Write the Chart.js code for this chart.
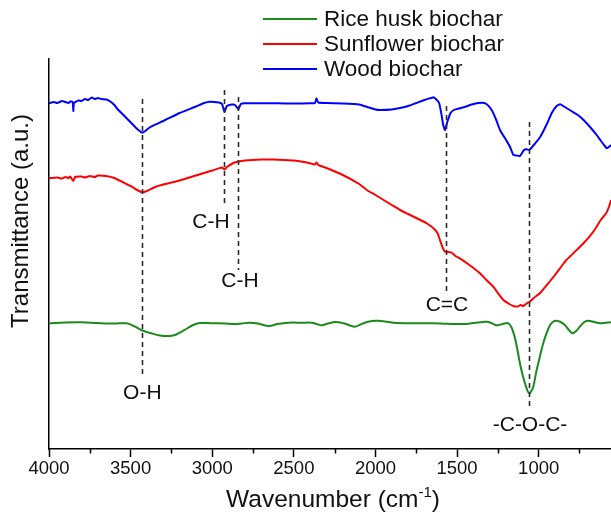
<!DOCTYPE html>
<html>
<head>
<meta charset="utf-8">
<script src="https://cdn.jsdelivr.net/npm/chart.js@4.4.1/dist/chart.umd.min.js"></script>
<style>
  html, body { margin: 0; padding: 0; background: #ffffff; }
  #wrap { width: 611px; height: 514px; }
</style>
</head>
<body>
<div id="wrap"><canvas id="c" width="611" height="514"></canvas></div>
<script>
// ---------------- DATA ----------------
const seriesNames = ['Rice husk biochar', 'Sunflower biochar', 'Wood biochar'];

const xMajorTicks = [4000, 3500, 3000, 2500, 2000, 1500, 1000];
const xMinorTicks = [3750, 3250, 2750, 2250, 1750, 1250, 750];

// Band assignments (dashed markers)
const bandWn     = [3428, 2925, 2840, 1565, 1058];
const bandTop    = [350, 359, 352, 343, 327];
const bandBottom = [72, 242, 179, 156, 43];
const bandLabels = ['O-H', 'C-H', 'C-H', 'C=C', '-C-O-C-'];
const labelWn    = [3428, 3008, 2830, 1562, 1053];
const labelT     = [56, 227, 168, 144, 24];

// Rice husk biochar
const riceWn = [4000,3900,3800,3700,3600,3524,3480,3428,3380,3320,3259,3220,3180,3150,3110,3075,3000,2920,2868,2820,2772,2720,2653,2600,2533,2450,2390,2360,2330,2290,2247,2190,2127,2070,2020,1984,1940,1889,1800,1700,1646,1560,1459,1400,1340,1316,1290,1256,1220,1186,1165,1145,1130,1115,1100,1084,1070,1058,1045,1033,1015,993,970,952,930,910,891,865,840,815,793,770,748,720,697,660,623,590,557];
const riceT  = [125.7,126.5,126.7,126,125.5,125.7,123,118.5,116,113.5,113,114.5,118,121,124.5,126,125.7,125.5,125,125.5,126.3,125.5,123,125,126.3,126.3,126.3,125,123.7,125.5,127,125.5,122.3,126,128,128.3,127.5,126.3,125.7,125.7,125.7,125.2,125,126,127,127.3,126,123.7,125,125.7,121,110.7,99,85.7,75,65.7,59,55.7,58,62.3,77,92.3,107,115.7,124,127.5,128.3,127,124,119,115.7,118,122.3,127,128.3,127,125.7,126.2,126.7];

// Sunflower biochar
const sunWn = [4000,3950,3920,3900,3880,3870,3851,3840,3800,3780,3750,3720,3700,3650,3600,3550,3500,3460,3428,3400,3350,3300,3200,3100,3000,2940,2925,2910,2870,2840,2800,2700,2646,2600,2500,2420,2370,2362,2350,2300,2200,2100,2053,2000,1950,1900,1849,1800,1750,1700,1686,1645,1620,1605,1590,1574,1555,1533,1510,1482,1450,1400,1360,1320,1278,1250,1216,1180,1155,1130,1110,1094,1070,1054,1030,993,950,900,850,830,780,730,689,650,620,587,570,557];
const sunT  = [270.7,271.5,270.5,272,271,272.5,268,272,272.5,271.5,273,272,273.5,273,271,267,263,259,256.7,258,262,264.5,268.5,273.5,278.5,281.5,279.5,282,286,287.5,288.5,289.5,289.5,289.3,288.5,286.5,284.5,286.5,284,281,274,265,259,254,249,244,239,235,231,227,225.7,220.7,216,209,202,197.3,197,196.3,193,190.7,187,181,175.7,169,162.3,156,149,145,143,142.5,144,143,146,147.3,151,155.7,164,174,185,189,197,205,212.3,221,229,235.7,242,249];

// Wood biochar
const woodWn = [4000,3970,3950,3920,3900,3880,3870,3855,3851,3847,3820,3800,3780,3760,3738,3720,3700,3680,3647,3620,3600,3575,3550,3520,3490,3460,3440,3428,3410,3380,3300,3200,3100,3050,3014,2960,2940,2925,2910,2880,2860,2840,2825,2800,2700,2600,2500,2400,2370,2362,2350,2300,2200,2100,2050,2000,1972,1900,1850,1800,1750,1700,1660,1646,1630,1610,1595,1585,1574,1560,1540,1520,1500,1450,1400,1350,1320,1288,1260,1237,1200,1176,1155,1135,1115,1090,1074,1058,1030,990,950,920,890,868,840,800,760,725,680,640,623,595,581,570,557];
const woodT  = [345.7,347,346,348,347,346,347.5,347,338,346,348.5,348,350,349,351.5,350,351,350,349.5,347,344,339,335,330,325,320,317.5,316.3,318,322,328,336,342.5,346,347.3,346.5,345,337.3,343,344.5,344,339.7,345,345.7,345.7,345.7,345.5,345.7,346,350.7,346.5,346,345.5,344.5,342,339.5,339,339.5,341,343,346,349,351,351.7,350,346,334,324,319,327,336,339,340,342.3,345,346.3,345,339,329,319,309,302.3,294,293.5,293,299,299.7,299,304,312.3,325,336,343,344.7,342,338,334,329,321,313,309,303,300.7,302,304];

// ---------------- CHART ----------------
const FONT = '"Liberation Sans", Arial, Helvetica, sans-serif';
const toXY = (xs, ys) => xs.map((x, i) => ({ x: x, y: ys[i] }));

const overlay = {
  id: 'overlay',
  afterDatasetsDraw(chart) {
    const ctx = chart.ctx;
    const xs = chart.scales.x, ys = chart.scales.y;
    ctx.save();
    // dashed band markers
    ctx.strokeStyle = '#2b2b2b';
    ctx.lineWidth = 1.6;
    ctx.setLineDash([5, 4]);
    bandWn.forEach((wn, i) => {
      const px = Math.round(xs.getPixelForValue(wn)) + 0.5;
      ctx.beginPath();
      ctx.moveTo(px, ys.getPixelForValue(bandTop[i]));
      ctx.lineTo(px, ys.getPixelForValue(bandBottom[i]));
      ctx.stroke();
    });
    ctx.setLineDash([]);
    // band labels
    ctx.fillStyle = '#111';
    ctx.font = '21px ' + FONT;
    ctx.textAlign = 'center';
    ctx.textBaseline = 'middle';
    bandLabels.forEach((t, i) => {
      ctx.fillText(t, xs.getPixelForValue(labelWn[i]), ys.getPixelForValue(labelT[i]));
    });
    ctx.restore();
  },
  afterDraw(chart) {
    const ctx = chart.ctx;
    const xs = chart.scales.x;
    const area = chart.chartArea;
    ctx.save();
    // minor ticks
    ctx.strokeStyle = '#000';
    ctx.lineWidth = 1.5;
    xMinorTicks.forEach(v => {
      const px = Math.round(xs.getPixelForValue(v)) + 0.5;
      ctx.beginPath();
      ctx.moveTo(px, area.bottom);
      ctx.lineTo(px, area.bottom + 4.5);
      ctx.stroke();
    });
    // legend
    ctx.textAlign = 'left';
    ctx.textBaseline = 'middle';
    ctx.font = '22.5px ' + FONT;
    chart.data.datasets.forEach((ds, i) => {
      const y = 19 + i * 25;
      ctx.strokeStyle = ds.borderColor;
      ctx.lineWidth = 2;
      ctx.beginPath();
      ctx.moveTo(263, y);
      ctx.lineTo(317, y);
      ctx.stroke();
      ctx.fillStyle = '#111';
      ctx.fillText(ds.label, 324, y + 1);
    });
    // y title
    ctx.save();
    ctx.translate(21, 221);
    ctx.rotate(-Math.PI / 2);
    ctx.textAlign = 'center';
    ctx.textBaseline = 'middle';
    ctx.font = '24px ' + FONT;
    ctx.fillText('Transmittance (a.u.)', 0, 0);
    ctx.restore();
    // x title with superscript
    const main1 = 'Wavenumber (cm', sup = '-1', main2 = ')';
    ctx.font = '24.5px ' + FONT;
    const w1 = ctx.measureText(main1).width, w3 = ctx.measureText(main2).width;
    ctx.font = '15px ' + FONT;
    const w2 = ctx.measureText(sup).width;
    const total = w1 + w2 + w3;
    let sx = 333 - total / 2;
    const base = 507;
    ctx.textAlign = 'left';
    ctx.textBaseline = 'alphabetic';
    ctx.font = '24.5px ' + FONT;
    ctx.fillText(main1, sx, base);
    ctx.font = '15px ' + FONT;
    ctx.fillText(sup, sx + w1, base - 10);
    ctx.font = '24.5px ' + FONT;
    ctx.fillText(main2, sx + w1 + w2, base);
    ctx.restore();
  }
};

new Chart(document.getElementById('c'), {
  type: 'line',
  data: {
    datasets: [
      { label: seriesNames[0], data: toXY(riceWn, riceT), borderColor: '#1a8a1a', borderWidth: 2, pointRadius: 0, tension: 0.35, fill: false },
      { label: seriesNames[1], data: toXY(sunWn, sunT), borderColor: '#ff0000', borderWidth: 2, pointRadius: 0, tension: 0.15, fill: false },
      { label: seriesNames[2], data: toXY(woodWn, woodT), borderColor: '#0000ff', borderWidth: 2, pointRadius: 0, tension: 0.15, fill: false }
    ]
  },
  options: {
    responsive: false,
    animation: false,
    devicePixelRatio: 1,
    layout: { padding: { top: 59, right: 0, left: 0, bottom: 0 } },
    plugins: { legend: { display: false }, tooltip: { enabled: false } },
    scales: {
      x: {
        type: 'linear',
        reverse: true,
        min: 557,
        max: 4000,
        afterBuildTicks: (s) => { s.ticks = xMajorTicks.map(v => ({ value: v })); },
        afterFit: (s) => { s.height = 65; },
        border: { display: true, color: '#000', width: 1.5 },
        grid: { drawOnChartArea: false, drawTicks: true, tickLength: 8, tickColor: '#000', tickWidth: 1.5 },
        ticks: {
          autoSkip: false, maxRotation: 0, padding: 1,
          color: '#111',
          font: { family: FONT, size: 18.5 },
          callback: (v) => String(v)
        }
      },
      y: {
        type: 'linear',
        min: 0,
        max: 390,
        afterFit: (s) => { s.width = 49; },
        border: { display: true, color: '#000', width: 1.5 },
        grid: { display: false, drawTicks: false },
        ticks: { display: false }
      }
    }
  },
  plugins: [overlay]
});
</script>
</body>
</html>
